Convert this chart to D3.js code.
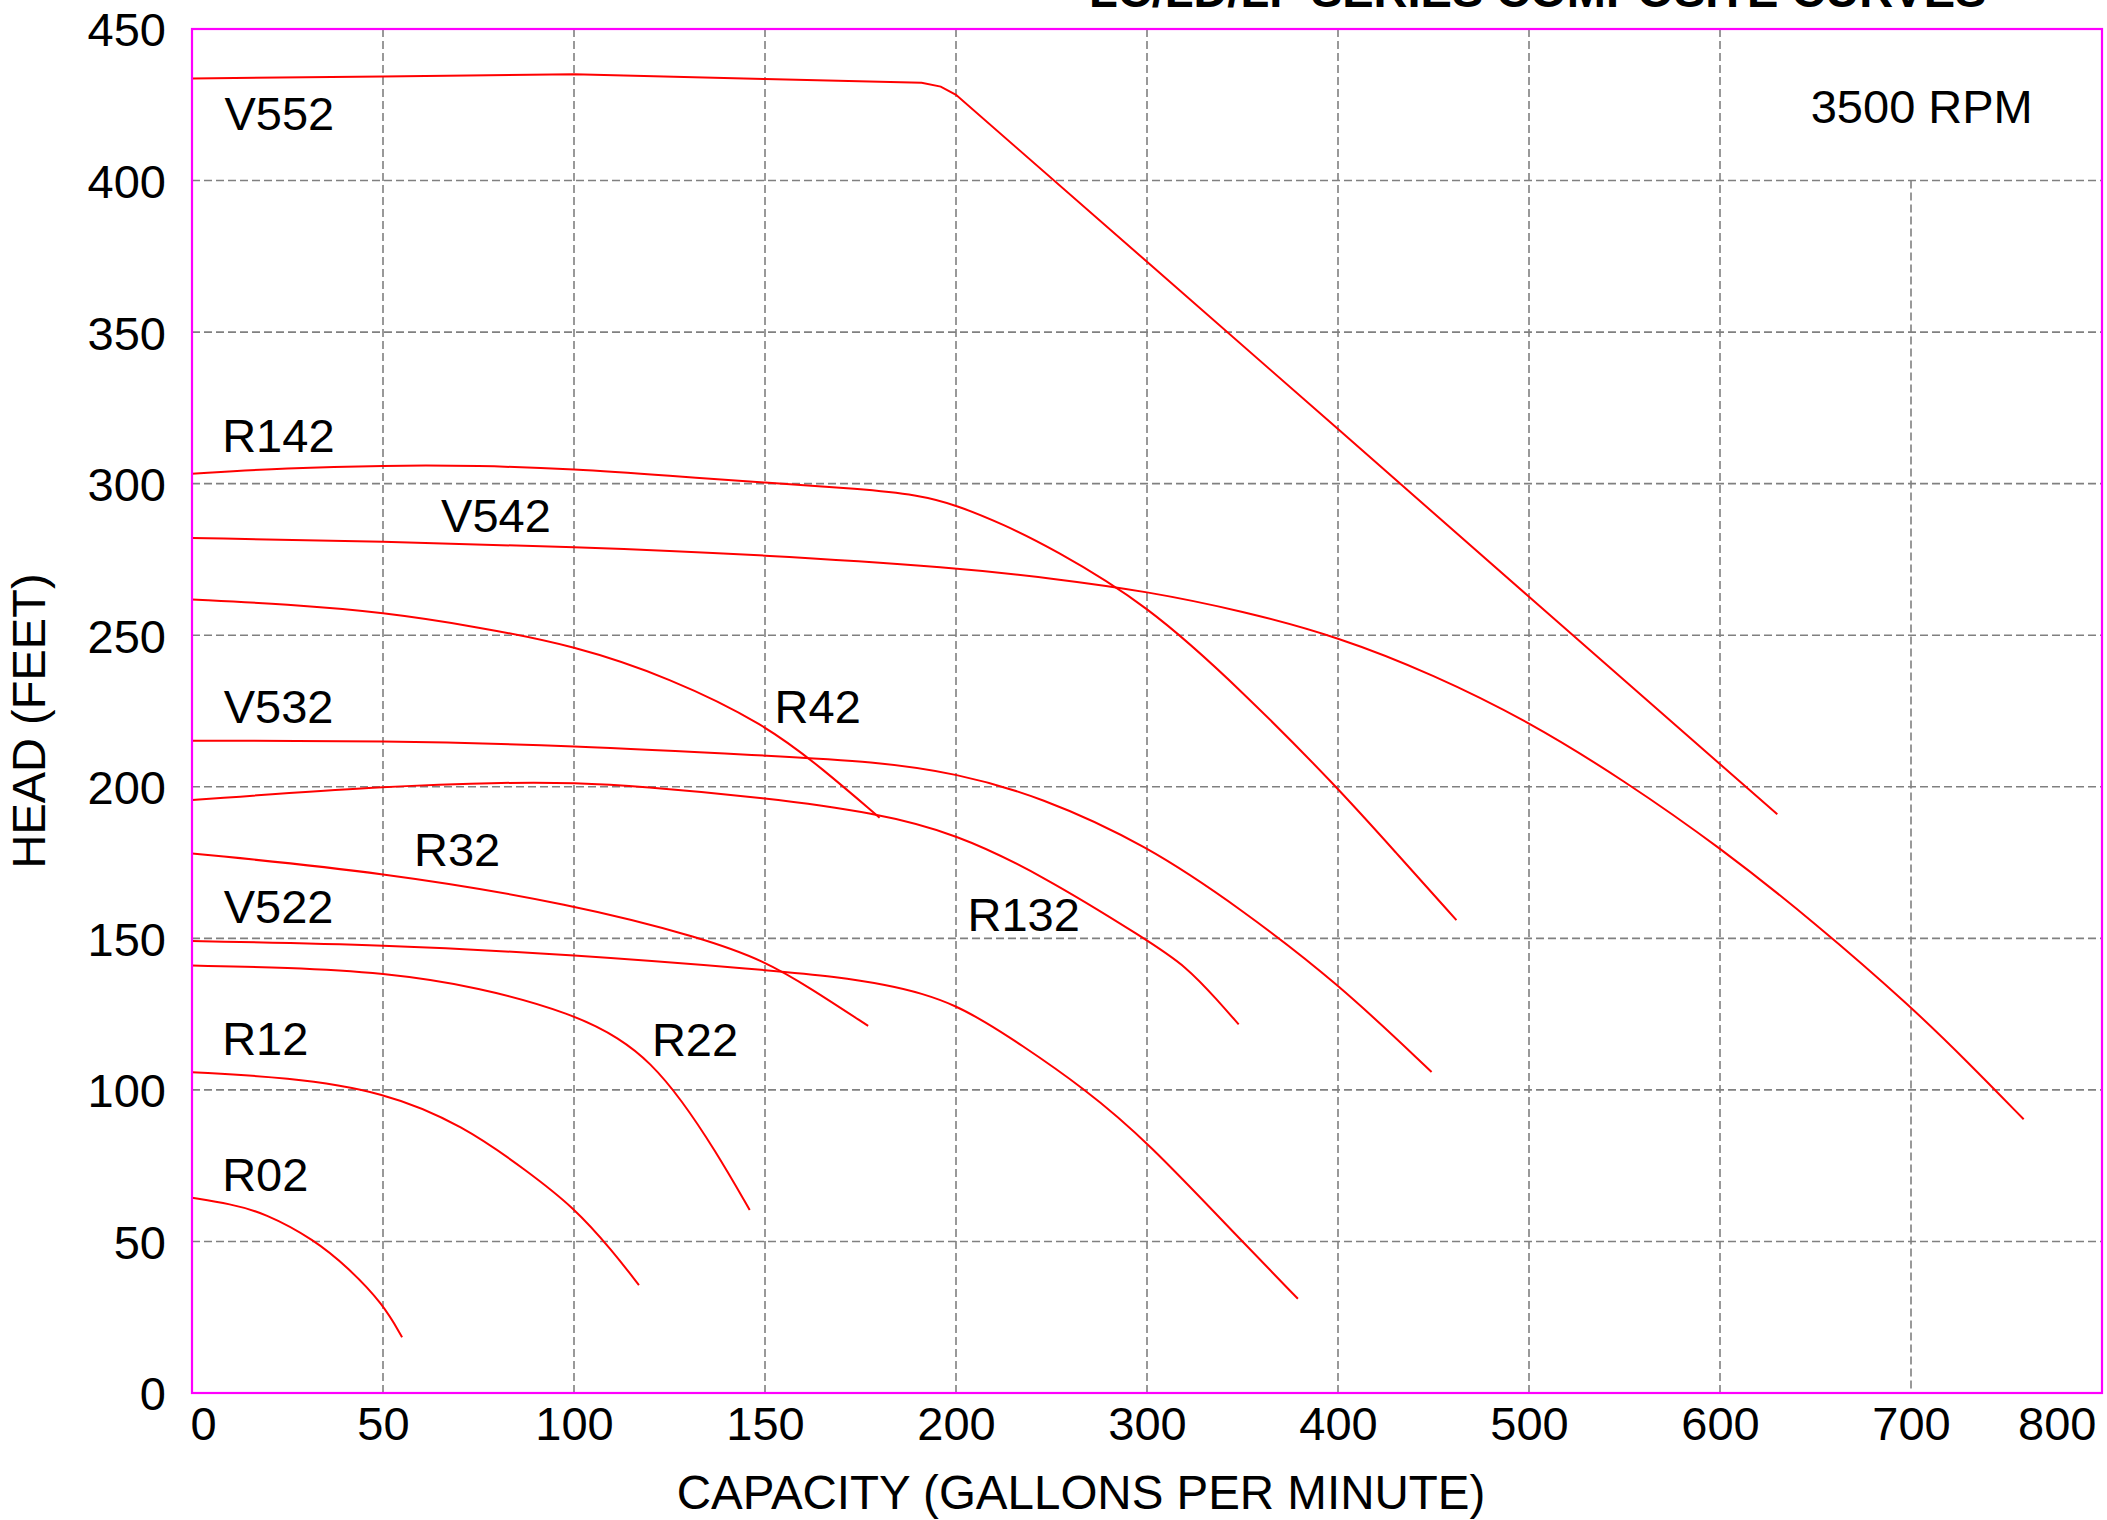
<!DOCTYPE html>
<html>
<head>
<meta charset="utf-8">
<script src="https://cdn.jsdelivr.net/npm/d3@7"></script>
<style>
  html, body { margin: 0; padding: 0; background: #fff; }
  svg { display: block; }
  text { font-family: "Liberation Sans", Arial, sans-serif; fill: #000; }
</style>
</head>
<body>
<svg id="chart" width="2107" height="1520"></svg>
<script>
// Data: pump curves, [capacity gpm, head ft]
const V552 = [[0,433.7],[50,434.3],[100,435.1],[150,433.5],[191,432.3],[196,431],[200,428.3],[300,373.2],[400,318],[500,262.7],[630,190.9]];
const R142 = [[0,303.3],[25,305.2],[50,306],[75,306],[100,304.8],[125,302.6],[150,300.3],[175,298.3],[190,296.3],[200,293],[225,286.5],[250,278.8],[300,260.2],[350,231.5],[400,199.6],[430,178.5],[462,156]];
const V542 = [[0,282.1],[50,280.9],[100,279.2],[150,276.5],[200,272.3],[250,268.8],[300,264.5],[350,258],[400,249.5],[450,237],[500,221.5],[550,202],[600,180],[650,155],[700,127.5],[730,109],[759,90.3]];
const R42  = [[0,261.8],[25,260.2],[50,257.6],[75,252.7],[100,246.6],[125,236],[150,220.6],[165,206],[180,189.8]];
const V532 = [[0,215.2],[50,215.2],[100,213.6],[150,210.3],[179,208.3],[200,204.5],[244,196.8],[300,180.7],[349,159.8],[400,135.2],[449,105.9]];
const R132 = [[0,195.6],[50,200.2],[84,201.5],[100,201.3],[117,200.2],[150,196.4],[179,191.4],[200,184.5],[244,171.2],[300,149.5],[321,140.5],[337,129.5],[348,121.6]];
const R32  = [[0,178],[50,171.8],[100,161.2],[134,150],[150,142.5],[162,133.5],[177,121.1]];
const V522 = [[0,149.1],[50,147.9],[100,144.6],[150,139.6],[169,137.3],[182,134.6],[191,131.9],[200,127.8],[215,122.5],[232,115.8],[267,100.6],[300,83.1],[349,50.5],[379,31.1]];
const R22  = [[0,141],[25,140.4],[50,138.7],[75,134],[100,125],[112,117],[120,109],[128,97],[137,80],[146,60.4]];
const R12  = [[0,105.8],[25,104.2],[50,99.5],[71,88.3],[88,73],[100,61.2],[110,47],[117,35.6]];
const R02  = [[0,64.4],[10,62.4],[19,59.4],[32,50.6],[41,41.2],[50,29.4],[55,18.4]];

const seriesNames = ["V552","R142","V542","R42","V532","R132","R32","V522","R22","R12","R02"];
const seriesData  = [V552, R142, V542, R42, V532, R132, R32, V522, R22, R12, R02];
// label anchor (capacity, head) of each curve name
const labelAt = [[8.5,416.7],[7.9,310.3],[65.2,284],[152.5,220.9],[8.3,221.1],[206,152.4],[58.1,174],[8.3,155.2],[120.4,111.3],[7.9,111.6],[7.9,66.5]];

const xTicks = [0,50,100,150,200,300,400,500,600,700,800];
const yTicks = [0,50,100,150,200,250,300,350,400,450];

const title = "LC/LD/LF SERIES COMPOSITE CURVES";
const rpmText = "3500 RPM";
const xTitle = "CAPACITY (GALLONS PER MINUTE)";
const yTitle = "HEAD (FEET)";

// Chart setup
const svg = d3.select("#chart");
const L = 192, R = 2102, T = 29, B = 1393;
const FONT = 47;

// x axis is stretched below 200 gpm (50 per division) and 100 per division above
const x = d3.scaleLinear().domain([0, 200, 800]).range([L, 956, R]);
const y = d3.scaleLinear().domain([0, 450]).range([B, T]);

// grid
const grid = svg.append("g").attr("stroke", "#808080").attr("stroke-width", 1.6)
  .attr("stroke-dasharray", "8 4");
grid.selectAll("line.v").data(xTicks.filter(d => d > 0 && d < 800)).join("line")
  .attr("class", "v")
  .attr("x1", d => x(d)).attr("x2", d => x(d))
  .attr("y1", d => d === 700 ? y(400) : y(450)).attr("y2", y(0));
grid.selectAll("line.h").data(yTicks.filter(d => d > 0 && d < 450)).join("line")
  .attr("class", "h")
  .attr("x1", L).attr("x2", R)
  .attr("y1", d => y(d)).attr("y2", d => y(d));

// curves (V552 has a hard knee, the rest are smooth)
const smooth = d3.line().x(d => x(d[0])).y(d => y(d[1])).curve(d3.curveBasis);
const straight = d3.line().x(d => x(d[0])).y(d => y(d[1]));
svg.append("g").selectAll("path").data(seriesData).join("path")
  .attr("d", d => d === V552 ? straight(d) : smooth(d))
  .attr("fill", "none").attr("stroke", "#ff0000").attr("stroke-width", 2);

// frame
svg.append("rect").attr("x", L).attr("y", T).attr("width", R - L).attr("height", B - T)
  .attr("fill", "none").attr("stroke", "#ff00ff").attr("stroke-width", 2.2);

// curve names
svg.append("g").selectAll("text").data(seriesNames).join("text")
  .attr("x", (d, i) => x(labelAt[i][0]))
  .attr("y", (d, i) => y(labelAt[i][1]))
  .attr("font-size", FONT)
  .text(d => d);

// axes
svg.append("g").attr("transform", `translate(${L},0)`)
  .call(d3.axisLeft(y).tickValues(yTicks).tickSize(0).tickPadding(26))
  .call(g => g.select(".domain").remove())
  .call(g => g.selectAll("text")
    .attr("font-size", FONT).attr("font-family", "'Liberation Sans', Arial, sans-serif")
    .attr("fill", "#000").attr("dy", "0.36em"));

const xAxisG = svg.append("g").attr("transform", `translate(0,${B})`)
  .call(d3.axisBottom(x).tickValues(xTicks).tickSize(0).tickPadding(14))
  .call(g => g.select(".domain").remove())
  .call(g => g.selectAll("text")
    .attr("font-size", FONT).attr("font-family", "'Liberation Sans', Arial, sans-serif")
    .attr("fill", "#000"));
xAxisG.selectAll(".tick").filter(d => d === 0).select("text")
  .attr("text-anchor", "start").attr("x", -2);
xAxisG.selectAll(".tick").filter(d => d === 800).select("text")
  .attr("text-anchor", "end").attr("x", -6);

// titles
svg.append("text").attr("x", 1081).attr("y", 1509)
  .attr("text-anchor", "middle").attr("font-size", 47.5).text(xTitle);
svg.append("text").attr("transform", "translate(45,721) rotate(-90)")
  .attr("text-anchor", "middle").attr("font-size", FONT).text(yTitle);
svg.append("text").attr("x", 1089).attr("y", 7)
  .attr("font-size", 47).attr("font-weight", "bold").text(title);
svg.append("text").attr("x", x(647.5)).attr("y", y(419))
  .attr("font-size", FONT).text(rpmText);
</script>
</body>
</html>
